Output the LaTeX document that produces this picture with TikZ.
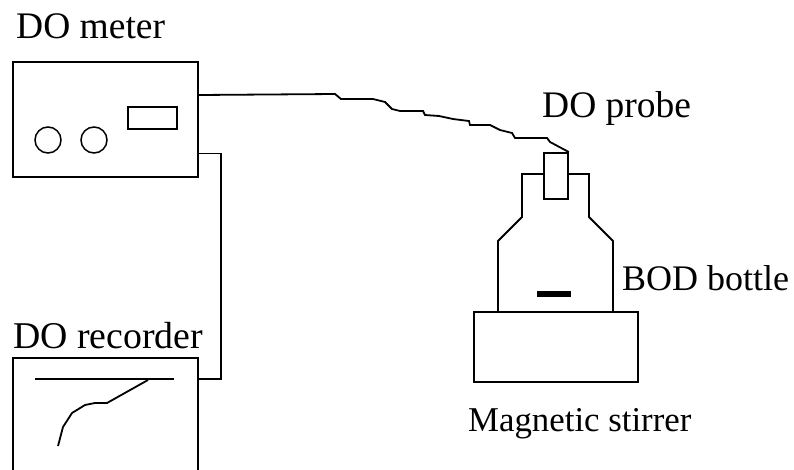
\documentclass[tikz,border=0pt]{standalone}
\usepackage{fontspec}
\setmainfont{Liberation Serif}
\usetikzlibrary{positioning, calc}

\begin{document}
\begin{tikzpicture}[
  x=1pt, y=-1pt,
  font=\fontsize{36}{40}\selectfont,
  label/.style={anchor=base west, inner sep=0pt},
  box/.style={draw, line width=2pt, anchor=north west, inner sep=0pt},
  thinbox/.style={draw, line width=1.8pt, anchor=north west, inner sep=0pt},
  knob/.style={draw, circle, line width=1.5pt, minimum size=26pt, inner sep=0pt},
  wire/.style={line width=1.8pt},
]
  \clip (0,0) rectangle (794,469);

  \node[label, font=\fontsize{37.5}{40}\selectfont] (lmeter) at (16,38) {DO meter};
  \node[label, font=\fontsize{37.8}{40}\selectfont] (lrec)   at (13,348) {DO recorder};
  \node[label, font=\fontsize{37.5}{40}\selectfont] (lprobe) at (542,117) {DO probe};
  \node[label] (lbod)   at (622,290) {BOD bottle};
  \node[label, font=\fontsize{34.8}{40}\selectfont] (lstir)  at (468,431) {Magnetic stirrer};

  % meter and recorder
  \node[box, minimum width=185pt, minimum height=115pt] (meter) at (12,61) {};
  \node[thinbox, minimum width=49pt, minimum height=22pt] (display) at (127,106) {};
  \node[knob] (knoba) at (48,140) {};
  \node[knob] (knobb) at (94,140) {};
  \node[box, minimum width=185pt, minimum height=130pt] (rec) at (12,357) {};
  \coordinate (recin) at (197,379);
  \coordinate (penleft) at (35,379);
  \coordinate (penright) at (174,379);
  \draw[line width=2pt] (penleft) -- (penright);
  \draw[line width=1.8pt] (148,380) -- (107,403) -- (95,403) -- (85,405)
    -- (72,413) -- (63,427) -- (58,446);

  % bottle on the stirrer
  \node[box, minimum width=164pt, minimum height=70pt] (stirrer) at (473,311) {};
  \node[thinbox, minimum width=24pt, minimum height=46pt] (probe) at (543,152) {};
  \node[fill=black, inner sep=0pt, minimum width=34pt, minimum height=6pt] (bar) at (554,294) {};
  \draw[wire] (probe.west |- 0,174) -- (522,174) -- (522,217) -- (498,241)
    -- (498,311);
  \draw[wire] (probe.east |- 0,174) -- (589,174) -- (589,217) -- (613,241)
    -- (613,311);

  % cables
  \draw[wire] ([yshift=24.5pt]meter.east) -- (335,94) -- (341,99) -- (373,99)
    -- (385,102) -- (392,109) -- (400,111) -- (423,111) -- (425,115) -- (439,116)
    -- (453,119) -- (469,121) -- (470,125) -- (490,125) -- (500,130) -- (512,133)
    -- (515,138) -- (547,138) -- (550,142) -- (probe.north east);
  \draw[wire] ([yshift=-34pt]meter.east) -| (221,379) -- (recin);
\end{tikzpicture}
\end{document}
